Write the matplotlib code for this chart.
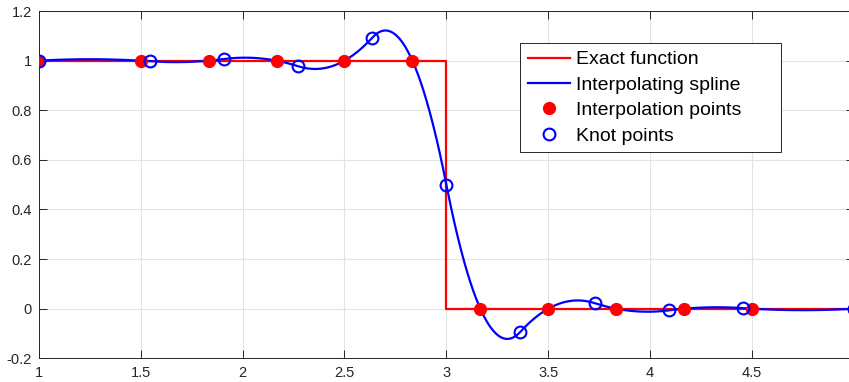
import numpy as np
import matplotlib
matplotlib.use("Agg")
import matplotlib.pyplot as plt

plt.rcParams['font.family'] = ['Liberation Sans', 'DejaVu Sans']

# Exact (step) function
exact_x = [1.0, 3.0, 3.0, 5.0]
exact_y = [1.0, 1.0, 0.0, 0.0]

# Interpolation points (samples of the step function)
interp_x = [1.0, 1.5, 11/6, 13/6, 2.5, 17/6, 19/6, 3.5, 23/6, 25/6, 4.5, 5.0]
interp_y = [1.0, 1.0, 1.0, 1.0, 1.0, 1.0, 0.0, 0.0, 0.0, 0.0, 0.0, 0.0]

# Spline knots
knot_x = [1.0, 1.5455, 1.9091, 2.2727, 2.6364, 3.0, 3.3636, 3.7273, 4.0909, 4.4545, 5.0]

# Axis ticks
xtick_vals = [1, 1.5, 2, 2.5, 3, 3.5, 4, 4.5, 5]
xtick_text = ['1', '1.5', '2', '2.5', '3', '3.5', '4', '4.5', '']
ytick_vals = [-0.2, 0, 0.2, 0.4, 0.6, 0.8, 1, 1.2]
ytick_text = ['-0.2', '0', '0.2', '0.4', '0.6', '0.8', '1', '1.2']

DEGREE = 2


def bspline_basis(x, t, k):
    """Evaluate all B-spline basis functions of degree k on knot vector t."""
    x = np.atleast_1d(np.asarray(x, float))
    n = len(t) - 1
    B = np.zeros((len(x), n))
    for i in range(n):
        if t[i] < t[i + 1]:
            B[:, i] = (x >= t[i]) & (x < t[i + 1])
    # right end belongs to the last non-empty interval
    last = max(i for i in range(n) if t[i] < t[i + 1])
    B[x >= t[-1], last] = 1.0
    for d in range(1, k + 1):
        Bn = np.zeros((len(x), n - d))
        for i in range(n - d):
            left = t[i + d] - t[i]
            right = t[i + d + 1] - t[i + 1]
            term = np.zeros(len(x))
            if left > 0:
                term += (x - t[i]) / left * B[:, i]
            if right > 0:
                term += (t[i + d + 1] - x) / right * B[:, i + 1]
            Bn[:, i] = term
        B = Bn
    return B


# Quadratic spline through the interpolation points with the given knots
t = np.r_[[knot_x[0]] * DEGREE, knot_x, [knot_x[-1]] * DEGREE]
A = bspline_basis(interp_x, t, DEGREE)
coef = np.linalg.solve(A, np.asarray(interp_y))

xs = np.linspace(knot_x[0], knot_x[-1], 1200)
ys = bspline_basis(xs, t, DEGREE) @ coef
knot_y = bspline_basis(knot_x, t, DEGREE) @ coef

fig = plt.figure(figsize=(8.49, 3.82), dpi=100)
ax = fig.add_axes([0.0456, 0.062, 0.9603, 0.909])

axis_col = '#262626'
ax.plot(exact_x, exact_y, color='#ff0000', lw=1.6, label='Exact function', zorder=3)
ax.plot(xs, ys, color='#0000ff', lw=1.6, label='Interpolating spline', zorder=4)
ax.plot(interp_x, interp_y, 'o', color='#ff0000', ms=8.5, mec='#ff0000',
        label='Interpolation points', zorder=5)
ax.plot(knot_x, knot_y, 'o', mfc='none', mec='#0000ff', mew=1.5, ms=8.5,
        label='Knot points', zorder=6)

ax.set_xlim(1, 5)
ax.set_ylim(-0.2, 1.2)
ax.set_xticks(xtick_vals)
ax.set_xticklabels(xtick_text)
ax.set_yticks(ytick_vals)
ax.set_yticklabels(ytick_text)
ax.grid(True, color='#e3e3e3', lw=0.8)
ax.set_axisbelow(True)
ax.tick_params(direction='in', length=5.8, width=0.7, colors=axis_col,
               labelsize=10.5, top=True, right=True)
ax.tick_params(axis='x', pad=5.5)
ax.tick_params(axis='y', pad=5)
for s in ax.spines.values():
    s.set_color(axis_col)
    s.set_linewidth(0.7)

# legend box spans a fixed width in axes coordinates
leg = ax.legend(loc='upper left', bbox_to_anchor=(0.590, 0.5, 0.320, 0.408),
                mode='expand', borderaxespad=0,
                fontsize=14, frameon=True, fancybox=False, framealpha=1,
                edgecolor=axis_col, handlelength=2.2, handletextpad=0.3,
                labelspacing=0.4, borderpad=0.4, numpoints=1)
leg.get_frame().set_linewidth(0.7)

fig.savefig('out.png', dpi=100)
